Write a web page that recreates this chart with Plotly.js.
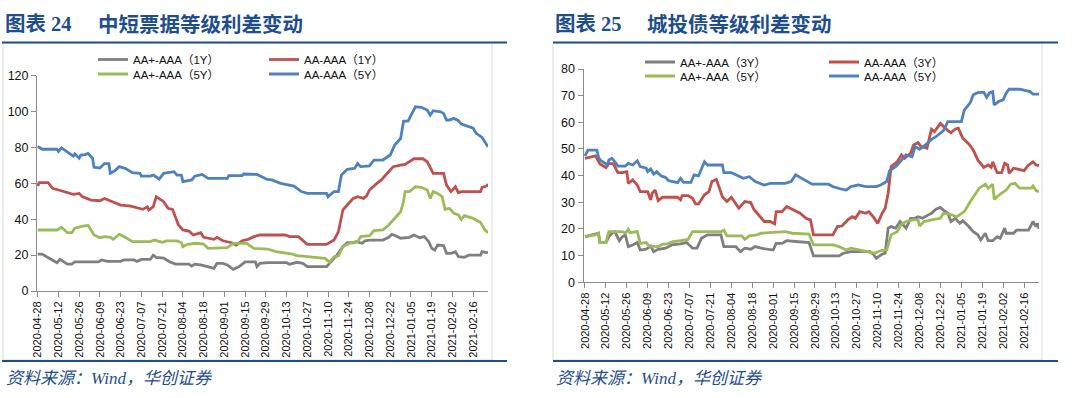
<!DOCTYPE html>
<html>
<head>
<meta charset="utf-8">
<script src="https://cdn.plot.ly/plotly-3.0.1.min.js"></script>
<style>
html,body{margin:0;padding:0;background:#fff;}
#chart{width:1080px;height:398px;}
</style>
</head>
<body>
<div id="chart"></div>
<script>
// ---------------- DATA ----------------
const tickLabelStart = '2020-04-28';
const seriesNamesLeft = ['AA+-AAA（1Y）', 'AA-AAA（1Y）', 'AA+-AAA（5Y）', 'AA-AAA（5Y）'];
const seriesNamesRight = ['AA+-AAA（3Y）', 'AA-AAA（3Y）', 'AA+-AAA（5Y）', 'AA-AAA（5Y）'];

// Chart 24: 中短票据等级利差变动 (bp)
const L_aaPlus1Y = [['2020-04-28',20.6],['2020-05-01',20.6],['2020-05-04',19.1],['2020-05-09',16.9],['2020-05-11',15.8],['2020-05-13',17.6],['2020-05-16',16.2],['2020-05-18',15],['2020-05-21',15],['2020-05-23',16.2],['2020-06-08',16.2],['2020-06-10',17.3],['2020-06-14',16.5],['2020-06-23',16.5],['2020-06-25',17.3],['2020-07-02',17.3],['2020-07-04',16.5],['2020-07-07',17.6],['2020-07-13',17.6],['2020-07-15',20],['2020-07-17',18.8],['2020-07-22',18.4],['2020-07-26',16.3],['2020-07-30',15],['2020-08-08',15],['2020-08-10',13.9],['2020-08-12',15],['2020-08-16',14.5],['2020-08-25',12.6],['2020-08-27',15.4],['2020-08-31',15.4],['2020-09-03',14.5],['2020-09-07',12.1],['2020-09-11',13.6],['2020-09-15',16.2],['2020-09-22',16.2],['2020-09-23',13.6],['2020-09-25',15.4],['2020-09-30',15.8],['2020-10-13',15.8],['2020-10-15',14.9],['2020-10-20',16],['2020-10-24',15.4],['2020-10-27',13.6],['2020-11-09',13.6],['2020-11-16',20],['2020-11-20',24.7],['2020-11-23',26.9],['2020-11-27',26.9],['2020-11-29',27.5],['2020-12-03',26.6],['2020-12-05',28],['2020-12-08',28.4],['2020-12-17',28.4],['2020-12-21',29.9],['2020-12-23',31.6],['2020-12-26',30.7],['2020-12-29',29.4],['2021-01-04',29.9],['2021-01-07',31.2],['2021-01-11',29.7],['2021-01-14',30.3],['2021-01-17',27.5],['2021-01-19',23.8],['2021-01-21',22.8],['2021-01-23',25.6],['2021-01-27',25.3],['2021-01-29',21],['2021-02-01',21],['2021-02-04',21.9],['2021-02-06',19.1],['2021-02-10',18.8],['2021-02-13',20],['2021-02-21',20],['2021-02-22',21.9],['2021-02-25',21.4],['2021-02-26',21.7]];
const L_aa1Y = [['2020-04-28',58.5],['2020-04-29',60.4],['2020-05-05',60.4],['2020-05-08',57.2],['2020-05-12',56.3],['2020-05-18',54.8],['2020-05-22',53.9],['2020-05-26',54.4],['2020-05-28',52.6],['2020-06-03',50.7],['2020-06-09',50.3],['2020-06-12',51.6],['2020-06-15',50.7],['2020-06-18',49.4],['2020-06-23',47.9],['2020-06-29',47.4],['2020-07-04',46.1],['2020-07-08',45.5],['2020-07-11',47],['2020-07-12',45.1],['2020-07-15',47],['2020-07-17',52.6],['2020-07-22',49.8],['2020-07-25',46.1],['2020-07-28',45.5],['2020-08-01',36.8],['2020-08-04',34],['2020-08-08',33.4],['2020-08-11',31.2],['2020-08-16',32.5],['2020-08-18',29.9],['2020-08-25',28.8],['2020-08-27',29.9],['2020-08-31',28],['2020-09-06',26.9],['2020-09-09',25.6],['2020-09-13',28],['2020-09-17',28.8],['2020-09-21',30.3],['2020-09-25',31.2],['2020-10-12',31.2],['2020-10-15',30.3],['2020-10-21',30.3],['2020-10-24',28.4],['2020-10-27',26],['2020-11-09',26],['2020-11-14',28.4],['2020-11-17',33],['2020-11-20',45.1],['2020-11-24',48.9],['2020-11-27',51.6],['2020-11-30',52.6],['2020-12-04',51.6],['2020-12-06',53],['2020-12-08',56.3],['2020-12-13',60],['2020-12-16',61.9],['2020-12-20',65.6],['2020-12-24',69.3],['2020-12-29',70.2],['2021-01-01',70.6],['2021-01-07',73.7],['2021-01-13',73.7],['2021-01-16',72],['2021-01-20',65.6],['2021-01-27',65.6],['2021-01-29',59],['2021-02-01',55.4],['2021-02-04',58.1],['2021-02-06',54.8],['2021-02-08',55.4],['2021-02-21',55.4],['2021-02-22',57.8],['2021-02-25',58.5],['2021-02-26',59.6]];
const L_aaPlus5Y = [['2020-04-28',34],['2020-05-11',34],['2020-05-14',35.5],['2020-05-18',32.5],['2020-05-21',32.5],['2020-05-23',35],['2020-05-27',35.9],['2020-06-01',36.6],['2020-06-05',31.2],['2020-06-09',29.7],['2020-06-12',30.3],['2020-06-16',29.9],['2020-06-18',28.8],['2020-06-22',31.6],['2020-06-26',29.9],['2020-07-01',27.5],['2020-07-13',27.5],['2020-07-16',28.4],['2020-07-21',27.1],['2020-07-24',27.9],['2020-07-31',27.9],['2020-08-03',26.9],['2020-08-04',24.7],['2020-08-07',26],['2020-08-13',26.6],['2020-08-18',26.2],['2020-08-21',23.8],['2020-08-29',23.8],['2020-09-03',24.2],['2020-09-07',26.6],['2020-09-16',26.6],['2020-09-21',23.8],['2020-09-30',23.4],['2020-10-06',21.9],['2020-10-13',21],['2020-10-17',20.6],['2020-10-20',19.7],['2020-10-29',19.1],['2020-11-08',18.2],['2020-11-11',16],['2020-11-14',19.1],['2020-11-17',19.5],['2020-11-20',24.7],['2020-11-25',26.9],['2020-11-30',27.5],['2020-12-02',30.3],['2020-12-08',30.8],['2020-12-11',33.6],['2020-12-17',34],['2020-12-21',36.8],['2020-12-24',39.6],['2020-12-29',44.2],['2020-12-31',49.8],['2021-01-01',55.4],['2021-01-04',55.4],['2021-01-08',58.1],['2021-01-12',57.8],['2021-01-16',56.3],['2021-01-18',51.6],['2021-01-20',55.4],['2021-01-23',54.4],['2021-01-26',52.6],['2021-01-28',45.5],['2021-01-31',46.1],['2021-02-03',43.3],['2021-02-06',42.4],['2021-02-08',39.9],['2021-02-10',42],['2021-02-16',40.5],['2021-02-21',38.1],['2021-02-24',34],['2021-02-26',32.5]];
const L_aa5Y = [['2020-04-28',80.5],['2020-05-01',79],['2020-05-11',79],['2020-05-12',77.8],['2020-05-14',79.8],['2020-05-18',77.7],['2020-05-20',76.4],['2020-05-22',75.2],['2020-05-23',76.4],['2020-05-26',74],['2020-05-27',75.8],['2020-05-30',76],['2020-06-01',76.7],['2020-06-04',74],['2020-06-05',69],['2020-06-09',68.5],['2020-06-12',71],['2020-06-15',71],['2020-06-16',65.6],['2020-06-19',67],['2020-06-22',69.3],['2020-06-26',68.4],['2020-07-01',66],['2020-07-06',65.6],['2020-07-07',64],['2020-07-13',64],['2020-07-15',64.6],['2020-07-19',62.4],['2020-07-22',65.6],['2020-07-29',66.5],['2020-07-31',64.6],['2020-08-03',64.6],['2020-08-04',61],['2020-08-10',61.9],['2020-08-12',64],['2020-08-17',65],['2020-08-21',62.8],['2020-09-03',62.8],['2020-09-04',64.3],['2020-09-13',64.3],['2020-09-14',65.2],['2020-09-23',65],['2020-09-30',62.2],['2020-10-03',61.9],['2020-10-09',60],['2020-10-15',59],['2020-10-18',58.5],['2020-10-23',55.4],['2020-10-27',54.4],['2020-11-09',54.4],['2020-11-10',52.6],['2020-11-14',55.4],['2020-11-17',55.4],['2020-11-19',64.6],['2020-11-23',67.8],['2020-11-28',68.4],['2020-11-30',71],['2020-12-02',69.3],['2020-12-08',69.7],['2020-12-11',73],['2020-12-17',73],['2020-12-22',75.8],['2020-12-25',81.4],['2020-12-29',85],['2020-12-31',94.7],['2021-01-03',94.7],['2021-01-07',100.9],['2021-01-08',102.7],['2021-01-12',102.4],['2021-01-16',100.9],['2021-01-18',98],['2021-01-20',100.5],['2021-01-25',99.9],['2021-01-27',99],['2021-01-29',95.3],['2021-01-31',95.3],['2021-02-03',96.2],['2021-02-06',94.9],['2021-02-08',93],['2021-02-10',92.5],['2021-02-16',90.7],['2021-02-18',87.9],['2021-02-22',85.6],['2021-02-26',80.4]];

// Chart 25: 城投债等级利差变动 (bp)
const R_aaPlus3Y = [['2020-04-28',17.1],['2020-05-07',18.4],['2020-05-08',14.9],['2020-05-12',14.9],['2020-05-14',17.1],['2020-05-16',18.4],['2020-05-18',19],['2020-05-21',15.6],['2020-05-23',17.1],['2020-05-25',17.8],['2020-05-27',13.4],['2020-05-30',14],['2020-06-02',14.9],['2020-06-04',12.1],['2020-06-08',12.4],['2020-06-11',13.6],['2020-06-13',11.5],['2020-06-16',12.4],['2020-06-21',12.8],['2020-06-25',14],['2020-07-01',14.4],['2020-07-05',14.9],['2020-07-09',12.8],['2020-07-12',12.8],['2020-07-15',16.5],['2020-07-19',17.8],['2020-07-28',17.8],['2020-07-30',13.4],['2020-08-07',13.4],['2020-08-10',11.5],['2020-08-13',12.8],['2020-08-17',12.4],['2020-08-20',13.4],['2020-08-24',12.8],['2020-09-01',12.1],['2020-09-03',14.6],['2020-09-07',14.6],['2020-09-10',15.6],['2020-09-16',15.3],['2020-09-25',14.9],['2020-09-28',9.9],['2020-10-15',9.9],['2020-10-18',10.9],['2020-10-23',11.5],['2020-11-05',11.5],['2020-11-07',10.6],['2020-11-09',9],['2020-11-13',10.6],['2020-11-15',10.9],['2020-11-17',20.3],['2020-11-19',20.9],['2020-11-22',20.3],['2020-11-25',22.8],['2020-11-27',21.5],['2020-11-29',20.3],['2020-12-02',24],['2020-12-05',24],['2020-12-07',24.6],['2020-12-10',24],['2020-12-13',25],['2020-12-16',25.9],['2020-12-19',27.4],['2020-12-22',28.1],['2020-12-24',27.1],['2020-12-27',25.9],['2020-12-29',22.8],['2021-01-01',24],['2021-01-04',22.1],['2021-01-06',23.1],['2021-01-10',20.9],['2021-01-13',19],['2021-01-16',17.8],['2021-01-18',15.9],['2021-01-21',18.4],['2021-01-23',15.6],['2021-01-26',15.6],['2021-01-29',17.1],['2021-01-31',16.5],['2021-02-02',19],['2021-02-03',20.3],['2021-02-04',18.4],['2021-02-09',18.4],['2021-02-11',19.6],['2021-02-19',19.6],['2021-02-22',22.8],['2021-02-24',20.9],['2021-02-25',22.1],['2021-02-26',20]];
const R_aa3Y = [['2020-04-28',46.5],['2020-05-02',46.9],['2020-05-05',47.4],['2020-05-08',44.4],['2020-05-12',43],['2020-05-14',44.6],['2020-05-17',44.4],['2020-05-20',41.1],['2020-05-23',41.1],['2020-05-26',41.5],['2020-05-27',37.1],['2020-05-30',38.4],['2020-06-02',36.5],['2020-06-04',34],['2020-06-09',34],['2020-06-11',30.9],['2020-06-12',33.4],['2020-06-14',34.6],['2020-06-16',30.6],['2020-06-19',31.9],['2020-06-29',31.9],['2020-07-01',30.9],['2020-07-02',32.5],['2020-07-06',32.5],['2020-07-09',31.5],['2020-07-11',29.4],['2020-07-13',29.4],['2020-07-17',32.8],['2020-07-20',34],['2020-07-22',37.8],['2020-07-25',38.6],['2020-07-29',32.1],['2020-08-01',30.3],['2020-08-04',31.9],['2020-08-07',29.4],['2020-08-09',27.8],['2020-08-13',30.3],['2020-08-17',29.9],['2020-08-19',27.4],['2020-08-23',24.6],['2020-08-26',22.8],['2020-08-30',22.8],['2020-09-02',21.9],['2020-09-03',26.5],['2020-09-07',26.5],['2020-09-10',28.4],['2020-09-14',27.4],['2020-09-19',25.9],['2020-09-23',24],['2020-09-26',23.4],['2020-09-28',17.8],['2020-10-11',17.8],['2020-10-14',20.9],['2020-10-17',21.1],['2020-10-21',23.4],['2020-10-24',24.6],['2020-10-26',24],['2020-10-29',26.5],['2020-11-02',25.9],['2020-11-04',26.5],['2020-11-07',24.6],['2020-11-10',22.1],['2020-11-13',25.9],['2020-11-15',27.8],['2020-11-17',33.4],['2020-11-19',43.4],['2020-11-23',45.2],['2020-11-26',47.8],['2020-11-28',46.5],['2020-12-02',48.4],['2020-12-04',51.5],['2020-12-07',52.4],['2020-12-09',50.9],['2020-12-13',50.3],['2020-12-16',57.4],['2020-12-18',56.5],['2020-12-22',59.6],['2020-12-24',58.4],['2020-12-27',56.9],['2020-12-29',56.1],['2021-01-01',57.5],['2021-01-03',57.8],['2021-01-06',54],['2021-01-10',51.9],['2021-01-13',49.6],['2021-01-16',45.9],['2021-01-20',43.1],['2021-01-23',44],['2021-01-25',43.1],['2021-01-26',45.2],['2021-01-29',41.1],['2021-02-01',41.1],['2021-02-03',44.6],['2021-02-05',44],['2021-02-06',40.9],['2021-02-09',42.8],['2021-02-13',42.4],['2021-02-16',41.9],['2021-02-19',44],['2021-02-22',45.2],['2021-02-24',44],['2021-02-26',43.8]];
const R_aaPlus5Y = [['2020-04-28',17.1],['2020-05-05',17.8],['2020-05-07',18.4],['2020-05-08',14.9],['2020-05-12',14.9],['2020-05-14',19],['2020-05-23',19],['2020-05-25',18.4],['2020-05-27',19.9],['2020-05-28',18.6],['2020-06-02',19],['2020-06-04',14.6],['2020-06-08',14.9],['2020-06-10',13.6],['2020-06-16',13.4],['2020-06-19',14.3],['2020-06-22',14.4],['2020-06-26',15.3],['2020-07-01',15.6],['2020-07-06',16.1],['2020-07-09',19],['2020-07-28',19],['2020-07-30',19.6],['2020-08-01',17.4],['2020-08-11',17.4],['2020-08-13',16.1],['2020-08-16',17.4],['2020-08-21',17.8],['2020-08-24',18.4],['2020-09-01',18.6],['2020-09-09',19],['2020-09-14',18.4],['2020-09-25',18.1],['2020-09-28',14],['2020-10-11',14],['2020-10-15',13.4],['2020-10-20',12.1],['2020-10-23',12.8],['2020-10-29',12.1],['2020-11-04',11.5],['2020-11-08',10.9],['2020-11-12',11.9],['2020-11-16',12.1],['2020-11-19',17.8],['2020-11-23',19],['2020-11-26',21.9],['2020-11-29',22.8],['2020-12-04',23.4],['2020-12-07',23.4],['2020-12-08',21.1],['2020-12-11',22.8],['2020-12-16',23.4],['2020-12-22',24],['2020-12-24',25.9],['2020-12-28',25.6],['2021-01-02',24.6],['2021-01-07',26.5],['2021-01-11',30.3],['2021-01-14',32.8],['2021-01-17',35.3],['2021-01-21',36.8],['2021-01-23',35.3],['2021-01-26',36.8],['2021-01-27',31.1],['2021-01-31',33.1],['2021-02-04',34.6],['2021-02-07',36.8],['2021-02-10',37.1],['2021-02-13',35.3],['2021-02-21',35.3],['2021-02-22',36.1],['2021-02-24',34.4],['2021-02-26',34]];
const R_aa5Y = [['2020-04-28',47.4],['2020-04-30',49.6],['2020-05-06',49.6],['2020-05-07',47.1],['2020-05-08',45.9],['2020-05-11',44.6],['2020-05-13',44],['2020-05-14',45.9],['2020-05-16',46.5],['2020-05-18',45.2],['2020-05-20',43.6],['2020-05-25',43.6],['2020-05-27',44.6],['2020-05-30',44],['2020-06-02',45.6],['2020-06-04',43.4],['2020-06-08',42.8],['2020-06-09',41.5],['2020-06-11',42.5],['2020-06-13',40.6],['2020-06-15',41.5],['2020-06-18',39.9],['2020-06-21',39.3],['2020-06-23',38.1],['2020-06-29',37.4],['2020-07-01',39],['2020-07-03',37.5],['2020-07-08',37.5],['2020-07-10',40.3],['2020-07-13',39.9],['2020-07-17',45.2],['2020-07-19',44],['2020-07-29',44],['2020-07-30',41.1],['2020-08-04',41.1],['2020-08-07',40.3],['2020-08-12',39],['2020-08-16',39.6],['2020-08-20',37.8],['2020-08-26',36.5],['2020-08-30',37.1],['2020-09-09',37.1],['2020-09-13',37.8],['2020-09-16',40.3],['2020-09-20',39],['2020-09-25',37.4],['2020-09-27',36.8],['2020-10-08',36.8],['2020-10-11',35.9],['2020-10-17',34.9],['2020-10-20',34.6],['2020-10-23',35.9],['2020-10-28',36.5],['2020-11-02',35.9],['2020-11-09',35.9],['2020-11-12',36.5],['2020-11-16',37.8],['2020-11-18',41.9],['2020-11-22',43.4],['2020-11-25',45.2],['2020-11-27',46.5],['2020-11-29',47.8],['2020-12-03',47.1],['2020-12-05',50.9],['2020-12-08',49.9],['2020-12-12',51.5],['2020-12-16',53.6],['2020-12-19',54.6],['2020-12-24',56.9],['2020-12-27',60.3],['2021-01-05',60.3],['2021-01-07',64.6],['2021-01-11',67.4],['2021-01-13',70.3],['2021-01-16',71.1],['2021-01-20',71.3],['2021-01-22',69.4],['2021-01-24',71.1],['2021-01-26',71.5],['2021-01-27',66.5],['2021-01-30',67.8],['2021-02-02',68.4],['2021-02-04',70.9],['2021-02-06',72.4],['2021-02-13',72.4],['2021-02-20',71.5],['2021-02-22',70.6],['2021-02-26',70.6]];

const yTicksLeft = [0, 20, 40, 60, 80, 100, 120];
const yTicksRight = [0, 10, 20, 30, 40, 50, 60, 70, 80];

// ---------------- LAYOUT HELPERS ----------------
const W = 1080, H = 398;
const fx = p => p / W;          // pixel x -> paper
const fy = p => 1 - p / H;      // pixel y -> paper
const colors = ['#7F7F7F', '#C0504D', '#9BBB59', '#4F81BD'];
const navy = '#1F4E8C';
const sans = "'Liberation Sans', Arial, 'Noto Sans CJK SC', sans-serif";
const serifCJK = "'Liberation Serif', 'Noto Sans CJK SC', serif";

function mk(pairs, name, color, xa, ya, legend) {
  return {
    type: 'scatter', mode: 'lines',
    x: pairs.map(p => p[0]), y: pairs.map(p => p[1]),
    name: name, xaxis: xa, yaxis: ya, legend: legend,
    line: {color: color, width: 2.8},
    hoverinfo: 'skip'
  };
}

const traces = [
  mk(L_aaPlus1Y, seriesNamesLeft[0], colors[0], 'x', 'y', 'legend'),
  mk(L_aa1Y, seriesNamesLeft[1], colors[1], 'x', 'y', 'legend2'),
  mk(L_aaPlus5Y, seriesNamesLeft[2], colors[2], 'x', 'y', 'legend3'),
  mk(L_aa5Y, seriesNamesLeft[3], colors[3], 'x', 'y', 'legend4'),
  mk(R_aaPlus3Y, seriesNamesRight[0], colors[0], 'x2', 'y2', 'legend5'),
  mk(R_aa3Y, seriesNamesRight[1], colors[1], 'x2', 'y2', 'legend6'),
  mk(R_aaPlus5Y, seriesNamesRight[2], colors[2], 'x2', 'y2', 'legend7'),
  mk(R_aa5Y, seriesNamesRight[3], colors[3], 'x2', 'y2', 'legend8')
];

function leg(xp, yp) {
  return {x: fx(xp), y: fy(yp), xanchor: 'left', yanchor: 'middle',
    bgcolor: 'rgba(0,0,0,0)', borderwidth: 0, itemwidth: 30,
    font: {family: sans, size: 11.5, color: '#111'}};
}

const axisCommon = {
  showgrid: false, zeroline: false, showline: true,
  linecolor: '#8C8C8C', linewidth: 1,
  ticks: 'outside', ticklen: 5, tickcolor: '#8C8C8C', tickwidth: 1,
  automargin: false, fixedrange: true
};
const xCommon = Object.assign({}, axisCommon, {
  type: 'date', tick0: tickLabelStart, dtick: 14 * 86400000,
  tickformat: '%Y-%m-%d', tickangle: -90,
  tickfont: {family: sans, size: 11, color: '#111'}
});
const yCommon = Object.assign({}, axisCommon, {
  tickfont: {family: sans, size: 12.5, color: '#111'}
});

const titleFont = {family: serifCJK, size: 20.5, color: navy, weight: 'bold'};
const srcFont = {family: serifCJK, size: 17, color: navy, style: 'italic'};
function ann(text, xp, yp, font) {
  return {text: text, x: fx(xp), y: fy(yp), xref: 'paper', yref: 'paper',
    xanchor: 'left', yanchor: 'middle', showarrow: false, font: font};
}
function hline(x0, x1, y) {
  return {type: 'line', xref: 'paper', yref: 'paper', x0: fx(x0), x1: fx(x1), y0: fy(y), y1: fy(y), line: {color: navy, width: 2}};
}
function box(x0, x1, y0, y1) {
  return {type: 'rect', xref: 'paper', yref: 'paper', x0: fx(x0), x1: fx(x1), y0: fy(y1), y1: fy(y0), line: {color: '#D9D9D9', width: 1}};
}

const layout = {
  width: W, height: H,
  margin: {l: 0, r: 0, t: 0, b: 0},
  paper_bgcolor: '#fff', plot_bgcolor: '#fff',
  showlegend: true,
  xaxis: Object.assign({}, xCommon, {domain: [fx(37), fx(488)], anchor: 'y',
    range: ['2020-04-27 12:00', '2021-02-26']}),
  yaxis: Object.assign({}, yCommon, {domain: [fy(291), fy(75.7)], anchor: 'x',
    range: [0, 120], tickvals: yTicksLeft}),
  xaxis2: Object.assign({}, xCommon, {domain: [fx(583.5), fx(1039)], anchor: 'y2',
    range: ['2020-04-27', '2021-02-26']}),
  yaxis2: Object.assign({}, yCommon, {domain: [fy(282.3), fy(69)], anchor: 'x2',
    range: [0, 80], tickvals: yTicksRight}),
  legend: leg(93, 59.5), legend2: leg(264, 59.5),
  legend3: leg(93, 74), legend4: leg(264, 74),
  legend5: leg(640, 62), legend6: leg(824, 62),
  legend7: leg(640, 76), legend8: leg(824, 76),
  shapes: [
    box(3, 492, 43, 360), box(553, 1042, 43, 360),
    hline(2, 507, 42.5), hline(553, 1058, 42.5),
    hline(2, 507, 361), hline(553, 1058, 361)
  ],
  annotations: [
    ann('图表 24', 3, 24, titleFont),
    ann('中短票据等级利差变动', 96, 24, titleFont),
    ann('图表 25', 553, 24, titleFont),
    ann('城投债等级利差变动', 645, 24, titleFont),
    ann('资料来源：Wind，华创证券', 4, 378, srcFont),
    ann('资料来源：Wind，华创证券', 554, 378, srcFont)
  ]
};

Plotly.newPlot('chart', traces, layout, {displayModeBar: false, staticPlot: true});
</script>
</body>
</html>
